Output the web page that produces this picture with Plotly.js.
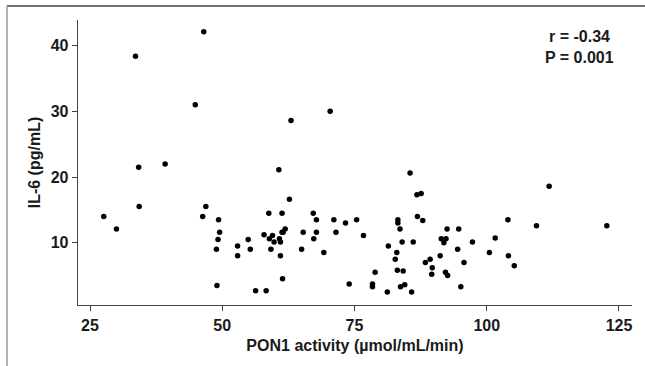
<!DOCTYPE html>
<html>
<head>
<meta charset="utf-8">
<script src="https://cdn.plot.ly/plotly-3.0.1.min.js"></script>
<style>html,body{margin:0;padding:0;background:#fff;}#chart{width:645px;height:366px;}</style>
</head>
<body>
<div id="chart"></div>
<script>
// PON1 activity (µmol/mL/min)
var pon1 = [27.6,30.0,33.6,34.2,34.3,39.2,44.9,46.5,46.3,46.9,49.3,49.5,49.2,48.9,49.0,52.9,52.9,54.9,55.3,56.3,58.3,57.9,58.8,58.9,59.2,59.5,59.8,60.7,60.8,61.0,61.0,61.3,61.3,61.5,61.9,61.4,62.7,63.0,65.0,65.3,67.2,67.3,67.8,67.8,69.2,70.4,71.1,71.5,73.3,74.0,75.4,76.7,78.4,78.4,78.9,81.2,81.4,82.7,83.0,83.1,83.2,83.2,83.6,84.0,83.7,84.2,84.5,85.5,85.8,86.1,86.8,87.6,86.9,87.9,88.4,89.3,89.7,89.6,91.2,91.4,91.9,92.3,92.5,92.2,92.6,94.5,94.7,95.1,95.7,97.3,100.5,101.6,104.0,104.1,105.2,109.4,111.8,122.7];
// IL-6 (pg/mL)
var il6 = [14.0,12.1,38.4,21.5,15.5,22.0,31.0,42.1,14.0,15.5,13.5,11.6,10.5,9.0,3.5,9.5,8.0,10.5,9.0,2.7,2.7,11.2,14.5,10.6,9.0,11.1,10.1,21.1,10.6,10.1,8.0,14.5,11.6,11.6,12.1,4.5,16.6,28.6,9.0,11.6,14.5,10.6,13.5,11.6,8.5,30.0,13.5,11.6,13.0,3.7,13.5,11.1,3.7,3.3,5.5,2.5,9.5,7.5,8.5,5.8,13.5,13.0,12.1,10.1,3.3,5.7,3.6,20.6,2.5,10.1,17.3,17.5,14.0,13.4,7.0,7.5,6.2,5.2,8.0,10.6,10.0,10.6,12.1,5.5,5.0,9.0,12.1,3.3,7.0,10.1,8.5,10.7,13.5,8.0,6.5,12.6,18.6,12.6];
var xTicks = [25, 50, 75, 100, 125];
var yTicks = [10, 20, 30, 40];
var statLines = ["r = -0.34", "P = 0.001"];

var F = "Liberation Sans, Arial, sans-serif";
var trace = {
  x: pon1, y: il6, type: "scatter", mode: "markers",
  marker: {color: "#000", size: 5.5},
  hoverinfo: "skip"
};
var layout = {
  width: 645, height: 366,
  margin: {l: 78, r: 13, t: 20, b: 61},
  paper_bgcolor: "#fff", plot_bgcolor: "#fff",
  showlegend: false,
  xaxis: {
    range: [22.73, 127.46], tickvals: xTicks, ticktext: xTicks.map(String),
    showgrid: false, zeroline: false, showline: true, linecolor: "#444", linewidth: 1.3,
    ticks: "outside", ticklen: 5, tickcolor: "#444", tickwidth: 1,
    tickfont: {family: F, size: 16, color: "#1a1a1a", weight: "bold"},
    title: {text: "PON1 activity (µmol/mL/min)", font: {family: F, size: 16, color: "#1a1a1a", weight: "bold"}, standoff: 7}
  },
  yaxis: {
    range: [0.52, 43.9], tickvals: yTicks, ticktext: yTicks.map(String),
    showgrid: false, zeroline: false, showline: true, linecolor: "#444", linewidth: 1.3,
    ticks: "outside", ticklen: 5, tickcolor: "#444", tickwidth: 1,
    tickfont: {family: F, size: 16, color: "#1a1a1a", weight: "bold"},
    title: {text: "IL-6 (pg/mL)", font: {family: F, size: 16, color: "#1a1a1a", weight: "bold"}, standoff: 6}
  },
  annotations: [
    {xref: "paper", yref: "paper", x: (579 - 78) / 554, y: (305 - 37) / 285, text: statLines[0], showarrow: false,
     xanchor: "center", yanchor: "middle", font: {family: F, size: 16, color: "#1a1a1a", weight: "bold"}},
    {xref: "paper", yref: "paper", x: (579 - 78) / 554, y: (305 - 58) / 285, text: statLines[1], showarrow: false,
     xanchor: "center", yanchor: "middle", font: {family: F, size: 16, color: "#1a1a1a", weight: "bold"}}
  ],
  shapes: [
    {type: "line", xref: "paper", yref: "paper", x0: (7 - 78) / 554, x1: (645 - 78) / 554, y0: (305 - 6) / 285, y1: (305 - 6) / 285,
     line: {color: "#444", width: 1.5}},
    {type: "line", xref: "paper", yref: "paper", x0: (7 - 78) / 554, x1: (7 - 78) / 554, y0: (305 - 6) / 285, y1: (305 - 366) / 285,
     line: {color: "#999", width: 1.5}}
  ]
};
Plotly.newPlot("chart", [trace], layout, {staticPlot: true, displayModeBar: false});
</script>
</body>
</html>
